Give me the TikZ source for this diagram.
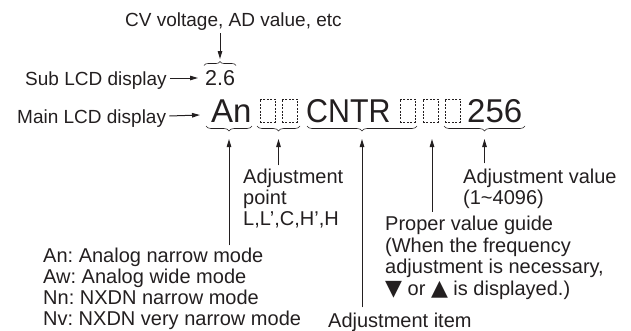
\documentclass[tikz,border=0pt]{standalone}
\usepackage{fontspec}
\usepackage{graphicx}
\setmainfont{Liberation Sans}
\newfontfamily\symfont{DejaVu Sans}[Scale=1.1]
\frenchspacing
\usetikzlibrary{arrows.meta,decorations.pathreplacing}
\definecolor{ink}{RGB}{35,31,32}
\begin{document}
\begin{tikzpicture}[x=1pt,y=-1pt,
  up/.style={anchor=base west,inner sep=0pt,text=ink,font=\fontsize{19}{21}\selectfont},
  lo/.style={anchor=base west,inner sep=0pt,text=ink,font=\fontsize{20}{21}\selectfont},
  big/.style={anchor=base west,inner sep=0pt,text=ink,font=\fontsize{33}{36}\selectfont},
  seg/.style={draw=ink,line width=0.7pt,dash pattern=on 2pt off 1.4pt,minimum width=15pt,minimum height=23pt,inner sep=0pt},
  arr/.style={draw=ink,line width=1pt,-{Triangle[length=8pt,width=4.5pt]}},
  brc/.style={draw=ink,line width=0.6pt,decorate,decoration={brace,amplitude=4pt}},
  brcd/.style={draw=ink,line width=0.6pt,decorate,decoration={brace,mirror,amplitude=5pt}}]
\useasboundingbox (0,0) rectangle (631,330);

% top labels
\node[up] (cv) at (125,26) {CV voltage, AD value, etc};
\node[up] (sub) at (25,85) {Sub LCD display};
\node[anchor=base west,inner sep=0pt,text=ink,font=\fontsize{21.5}{24}\selectfont] (v26) at (205,85) {2.6};
\node[up] (main) at (17,123) {Main LCD display};

% main display row
\node[big] (an) at (211,122) {An};
\node[seg] (s1) at (267.5,110.5) {};
\node[seg] (s2) at (289.5,110.5) {};
\node[big] (cntr) at (306,122) {\scalebox{0.92}[1]{CNTR}};
\node[seg] (s3) at (407.5,110.5) {};
\node[seg] (s4) at (430.5,110.5) {};
\node[seg] (s5) at (452.5,110.5) {};
\node[big] (val) at (467,122) {256};

% braces
\coordinate (b26l) at (204,65.5);
\coordinate (b26r) at (236,65.5);
\coordinate (b26) at (220,59);
\draw[brc] (b26l) -- (b26r);

\coordinate (banl) at (206,126);
\coordinate (banr) at (252,126);
\coordinate (ban) at (229,139);
\draw[brcd] (banl) -- (banr);

\coordinate (bptl) at (257,126);
\coordinate (bptr) at (300,126);
\coordinate (bpt) at (278.5,139);
\draw[brcd] (bptl) -- (bptr);

\coordinate (bitl) at (307,126);
\coordinate (bitr) at (417,126);
\coordinate (bit) at (362,139);
\draw[brcd] (bitl) -- (bitr);

\coordinate (bvall) at (444,126);
\coordinate (bvalr) at (525,126);
\coordinate (bval) at (484.5,139);
\draw[brcd] (bvall) -- (bvalr);

\coordinate (bguide) at (432,139);

% lower labels
\node[lo] (pt1) at (243,183) {Adjustment};
\node[lo] (pt2) at (243,204) {point};
\node[lo] (pt3) at (243,225) {L,L’,C,H’,H};

\node[lo] (av1) at (463,183) {Adjustment value};
\node[lo] (av2) at (463,204) {(1\textasciitilde4096)};

\node[lo] (pg1) at (385,230.5) {Proper value guide};
\node[lo] (pg2) at (385,252) {(When the frequency};
\node[lo] (pg3) at (385,273.5) {adjustment is necessary,};
\node[lo] (pg4) at (385,295) {{\symfont ▼} or {\symfont ▲} is displayed.)};

\node[lo] (md1) at (43,262) {An: Analog narrow mode};
\node[lo] (md2) at (43,283) {Aw: Analog wide mode};
\node[lo] (md3) at (43,304) {Nn: NXDN narrow mode};
\node[lo] (md4) at (43,325) {Nv: NXDN very narrow mode};

\node[lo] (item) at (328,327) {Adjustment item};

% arrows
\draw[arr] ([yshift=-3pt]cv.south -| b26) -- (b26);
\draw[arr] ([shift={(3pt,7pt)}]sub.base east) -- ([shift={(-7pt,7pt)}]v26.base west);
\draw[arr] ([shift={(3pt,7pt)}]main.base east) -- ([shift={(-11pt,7pt)}]an.base west);

\draw[arr] ([yshift=2pt]md1.north -| ban) -- (ban);
\draw[arr] ([yshift=3pt]pt1.north -| bpt) -- (bpt);
\draw[arr] ([yshift=5pt]item.north -| bit) -- (bit);
\draw[arr] ([yshift=4pt]pg1.north -| bguide) -- (bguide);
\draw[arr] ([yshift=5pt]av1.north -| bval) -- (bval);
\end{tikzpicture}
\end{document}
